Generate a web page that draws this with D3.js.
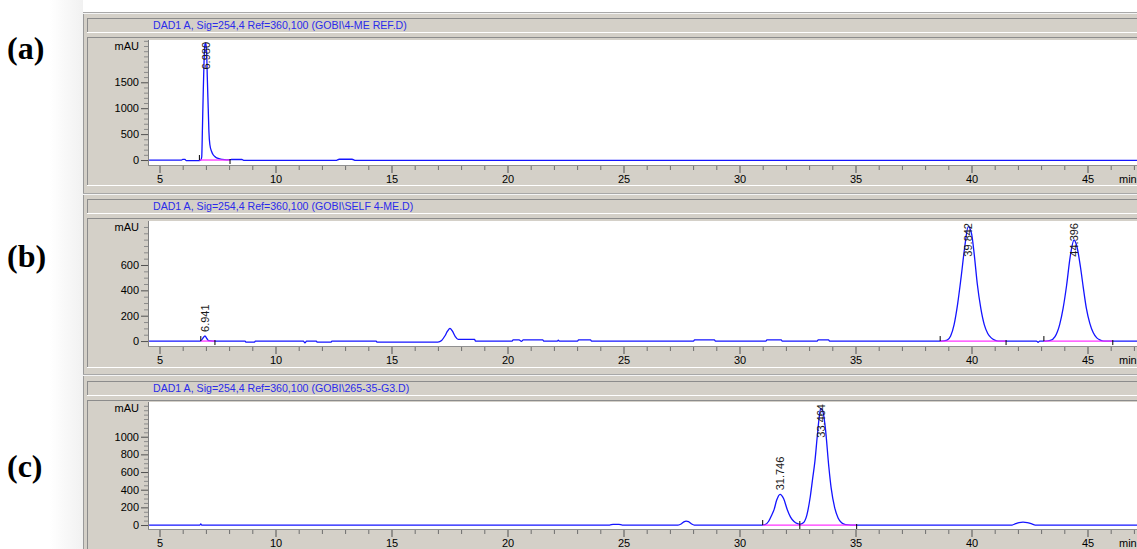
<!DOCTYPE html>
<html><head><meta charset="utf-8">
<script src="https://cdn.jsdelivr.net/npm/d3@7"></script>
<style>body{margin:0;background:#fff;overflow:hidden} svg{display:block}</style>
</head><body><svg id="chart" width="1137" height="549"></svg>
<script>
// ---------------- data ----------------
const panelLabels = ["(a)", "(b)", "(c)"];
const headers = [
  "DAD1 A, Sig=254,4 Ref=360,100 (GOBI\\4-ME REF.D)",
  "DAD1 A, Sig=254,4 Ref=360,100 (GOBI\\SELF 4-ME.D)",
  "DAD1 A, Sig=254,4 Ref=360,100 (GOBI\\265-35-G3.D)"
];
const timeTicks = [5, 10, 15, 20, 25, 30, 35, 40, 45];
const yTicksA = [0, 500, 1000, 1500];
const yTicksB = [0, 200, 400, 600];
const yTicksC = [0, 200, 400, 600, 800, 1000];
const yMinorStepA = 100, yMinorStepB = 50, yMinorStepC = 50;

// chromatogram traces: [time (min), signal (mAU)]
const traceA = [[4.55,0],[5.95,0],[6.0,12],[6.1,12],[6.15,-12],[6.72,-12],[6.78,0],[6.82,60],[6.85,600],[6.88,1200],[6.92,1900],[6.96,2230],[6.99,2260],[7.03,2100],[7.06,1600],[7.1,1000],[7.13,550],[7.17,300],[7.25,160],[7.32,97],[7.42,55],[7.53,30],[7.7,12],[7.9,4],[8.05,6],[8.1,10],[8.55,10],[8.65,-8],[12.6,-8],[12.75,15],[13.3,15],[13.45,-8],[47.2,-8]];
const traceB = [[4.55,0],[6.75,0],[6.8,5],[6.88,25],[6.96,40],[7.04,20],[7.12,3],[7.3,0],[8.69,0],[8.72,-8],[9.1,-8],[9.13,0],[11.2,0],[11.27,-15],[11.34,0],[11.76,0],[11.79,-8],[12.4,-8],[12.43,0],[14.34,0],[14.37,-8],[17.0,-8],[17.16,5],[17.3,40],[17.42,80],[17.52,100],[17.62,80],[17.75,35],[17.87,13],[18.58,13],[18.62,0],[20.2,0],[20.24,10],[20.5,10],[20.6,-3],[20.68,10],[21.52,10],[21.56,0],[22.15,0],[22.19,8],[22.23,0],[23.02,0],[23.06,10],[23.58,10],[23.62,0],[28.02,0],[28.06,10],[28.92,10],[28.96,0],[31.14,0],[31.18,10],[31.8,10],[31.84,0],[33.35,0],[33.39,10],[33.84,10],[33.88,0],[38.7,0],[38.95,8],[39.1,40],[39.25,130],[39.4,290],[39.55,500],[39.7,730],[39.86,902],[40.0,850],[40.12,680],[40.25,450],[40.4,260],[40.55,130],[40.7,60],[40.85,25],[41.0,8],[41.15,0],[42.8,0],[42.87,-10],[42.94,0],[43.2,0],[43.4,5],[43.6,35],[43.8,130],[43.95,260],[44.1,440],[44.25,660],[44.42,797],[44.55,740],[44.7,580],[44.82,420],[44.95,260],[45.1,140],[45.25,65],[45.4,25],[45.55,8],[45.7,0],[47.2,0]];
const traceC = [[4.55,0],[6.74,0],[6.78,12],[6.82,0],[24.4,0],[24.55,8],[24.8,8],[24.95,0],[27.35,0],[27.5,15],[27.6,35],[27.7,45],[27.8,38],[27.92,15],[28.05,0],[31.0,0],[31.1,4],[31.25,40],[31.4,120],[31.49,174],[31.6,280],[31.75,348],[31.9,300],[32.06,174],[32.2,90],[32.35,40],[32.5,15],[32.6,8],[32.75,25],[32.9,110],[33.05,320],[33.15,520],[33.25,720],[33.35,1000],[33.45,1250],[33.5,1320],[33.6,1280],[33.7,1100],[33.85,660],[33.95,420],[34.1,200],[34.25,80],[34.4,25],[34.57,5],[34.8,0],[41.75,0],[41.9,15],[42.05,28],[42.22,32],[42.4,28],[42.6,12],[42.75,0],[47.2,0]];

// peak annotations: apex time, apex height, retention-time label
const peakTimesA = [6.99], peakHeightsA = [2260], peakNamesA = ["6.980"];
const peakTimesB = [6.96, 39.86, 44.42], peakHeightsB = [40, 902, 797], peakNamesB = ["6.941", "39.842", "44.396"];
const peakTimesC = [31.75, 33.5], peakHeightsC = [348, 1320], peakNamesC = ["31.746", "33.464"];

// integration baselines [start, end] and split markers
const integA = [[6.72, 8.04]];
const integB = [[6.78, 7.39], [38.65, 41.49], [43.12, 46.09]];
const integC = [[31.0, 35.05]];
const splitC = [32.6];

// ---------------- layout ----------------
const W = 1137;
const frameLeft = 83, boxLeft = 87, plotLeft = 149, plotRight = 1137;
const layouts = [
  {outerTop: 12, headerTop: 18, boxTop: 37, plotTop: 40, axisY: 165, boxBottom: 185, yMin: -96, yMax: 2316, labelY: 48,
   trace: traceA, yTicks: yTicksA, minor: yMinorStepA, pt: peakTimesA, ph: peakHeightsA, pn: peakNamesA, integ: integA, split: []},
  {outerTop: 193, headerTop: 199, boxTop: 218, plotTop: 221, axisY: 346, boxBottom: 367, yMin: -39, yMax: 947, labelY: 256,
   trace: traceB, yTicks: yTicksB, minor: yMinorStepB, pt: peakTimesB, ph: peakHeightsB, pn: peakNamesB, integ: integB, split: []},
  {outerTop: 374, headerTop: 381, boxTop: 400, plotTop: 402, axisY: 529, boxBottom: 570, yMin: -45, yMax: 1393, labelY: 466,
   trace: traceC, yTicks: yTicksC, minor: yMinorStepC, pt: peakTimesC, ph: peakHeightsC, pn: peakNamesC, integ: integC, split: splitC}
];

const svg = d3.select("#chart");
const gray = "#d4d0c8";
const x = d3.scaleLinear().domain([5, 45]).range([159.5, 159.5 + 40 * 23.2]);

// left margin soft shading and frame background
const grad = svg.append("defs").append("linearGradient").attr("id", "shade").attr("x1", 0).attr("x2", 1);
grad.append("stop").attr("offset", 0).attr("stop-color", "#ffffff");
grad.append("stop").attr("offset", 1).attr("stop-color", "#f1f1f1");
svg.append("rect").attr("x", 50).attr("y", 0).attr("width", frameLeft - 50).attr("height", 549).attr("fill", "url(#shade)");
svg.append("rect").attr("x", frameLeft).attr("y", 12).attr("width", W - frameLeft).attr("height", 549 - 12)
  .attr("fill", gray);
svg.append("line").attr("x1", frameLeft + 0.5).attr("x2", frameLeft + 0.5).attr("y1", 12).attr("y2", 549).attr("stroke", "#9a9a9a");

const defs = svg.append("defs");
const FONT = "Liberation Sans, Arial, sans-serif";

layouts.forEach((L, i) => {
  const g = svg.append("g");
  // outer separator line
  g.append("line").attr("x1", frameLeft).attr("x2", W).attr("y1", L.outerTop + 0.5).attr("y2", L.outerTop + 0.5).attr("stroke", "#a8a8a8");
  g.append("line").attr("x1", frameLeft).attr("x2", W).attr("y1", L.outerTop + 1.5).attr("y2", L.outerTop + 1.5).attr("stroke", "#f4f4f4");
  // header box
  g.append("line").attr("x1", boxLeft).attr("x2", W).attr("y1", L.headerTop + 0.5).attr("y2", L.headerTop + 0.5).attr("stroke", "#8c8c8c");
  g.append("line").attr("x1", boxLeft + 0.5).attr("x2", boxLeft + 0.5).attr("y1", L.headerTop).attr("y2", L.headerTop + 15).attr("stroke", "#8c8c8c");
  g.append("line").attr("x1", boxLeft).attr("x2", W).attr("y1", L.headerTop + 14.5).attr("y2", L.headerTop + 14.5).attr("stroke", "#ffffff");
  g.append("text").attr("x", 153).attr("y", L.headerTop + 11)
    .attr("font-family", FONT).attr("font-size", 10.6).attr("fill", "#2b2bea")
    .text(headers[i]);
  // inner box
  g.append("line").attr("x1", boxLeft).attr("x2", W).attr("y1", L.boxTop + 0.5).attr("y2", L.boxTop + 0.5).attr("stroke", "#8c8c8c");
  g.append("line").attr("x1", boxLeft + 0.5).attr("x2", boxLeft + 0.5).attr("y1", L.boxTop).attr("y2", Math.min(L.boxBottom, 549)).attr("stroke", "#8c8c8c");
  g.append("line").attr("x1", boxLeft).attr("x2", W).attr("y1", L.boxBottom + 0.5).attr("y2", L.boxBottom + 0.5).attr("stroke", "#ffffff");
  // plot area
  g.append("rect").attr("x", plotLeft).attr("y", L.plotTop).attr("width", plotRight - plotLeft).attr("height", L.axisY - L.plotTop).attr("fill", "#fff");

  const y = d3.scaleLinear().domain([L.yMin, L.yMax]).range([L.axisY, L.plotTop]);

  // axes lines
  g.append("line").attr("x1", plotLeft - 0.5).attr("x2", plotLeft - 0.5).attr("y1", L.plotTop).attr("y2", L.axisY + 1).attr("stroke", "#808080");
  g.append("line").attr("x1", plotLeft - 1).attr("x2", W).attr("y1", L.axisY + 0.5).attr("y2", L.axisY + 0.5).attr("stroke", "#909090");

  // x axis
  const xMinor = d3.range(5, 48, 1).filter(v => x(v) < W - 1 && timeTicks.indexOf(v) < 0);
  const gxm = g.append("g").attr("transform", `translate(0,${L.axisY + 1})`)
    .call(d3.axisBottom(x).tickValues(xMinor).tickSize(4).tickFormat(""));
  gxm.select(".domain").remove();
  gxm.selectAll("line").attr("stroke", "#6e6e6e");
  const gx = g.append("g").attr("transform", `translate(0,${L.axisY + 1})`)
    .call(d3.axisBottom(x).tickValues(timeTicks).tickSize(7).tickPadding(2).tickFormat(d3.format("d")));
  gx.select(".domain").remove();
  gx.selectAll("line").attr("stroke", "#505050");
  gx.selectAll("text").attr("font-family", FONT).attr("font-size", 11).attr("fill", "#000");
  g.append("text").attr("x", 1119).attr("y", L.axisY + 18).attr("font-family", FONT)
    .attr("font-size", 11).attr("fill", "#000").text("min");

  // y axis
  const yMinorVals = d3.range(Math.ceil(L.yMin / L.minor) * L.minor, L.yMax, L.minor).filter(v => L.yTicks.indexOf(v) < 0);
  const gym = g.append("g").attr("transform", `translate(${plotLeft - 1},0)`)
    .call(d3.axisLeft(y).tickValues(yMinorVals).tickSize(4).tickFormat(""));
  gym.select(".domain").remove();
  gym.selectAll("line").attr("stroke", "#8a8a8a");
  const gy = g.append("g").attr("transform", `translate(${plotLeft - 1},0)`)
    .call(d3.axisLeft(y).tickValues(L.yTicks).tickSize(7).tickPadding(2).tickFormat(d3.format("d")));
  gy.select(".domain").remove();
  gy.selectAll("line").attr("stroke", "#505050");
  gy.selectAll("text").attr("font-family", FONT).attr("font-size", 11).attr("fill", "#000");
  g.append("text").attr("x", plotLeft - 10).attr("y", L.plotTop + 10).attr("text-anchor", "end")
    .attr("font-family", FONT).attr("font-size", 11).attr("fill", "#000").text("mAU");

  // clip
  const cid = "clip" + i;
  defs.append("clipPath").attr("id", cid).append("rect")
    .attr("x", plotLeft).attr("y", L.plotTop).attr("width", plotRight - plotLeft).attr("height", L.axisY - L.plotTop);
  const pg = g.append("g").attr("clip-path", `url(#${cid})`);

  const line = d3.line().x(d => x(d[0])).y(d => y(d[1])).curve(d3.curveMonotoneX);
  pg.append("path").datum(L.trace).attr("d", line).attr("fill", "none").attr("stroke", "#1414ff").attr("stroke-width", 1.3);

  // integration baselines
  L.integ.forEach(s => {
    pg.append("line").attr("x1", x(s[0])).attr("x2", x(s[1])).attr("y1", y(0)).attr("y2", y(0))
      .attr("stroke", "#ff33ff").attr("stroke-width", 1.3);
    pg.append("line").attr("x1", x(s[0])).attr("x2", x(s[0])).attr("y1", y(0) - 5).attr("y2", y(0))
      .attr("stroke", "#000").attr("stroke-width", 1);
    pg.append("line").attr("x1", x(s[1])).attr("x2", x(s[1])).attr("y1", y(0) - 1).attr("y2", y(0) + 4)
      .attr("stroke", "#000").attr("stroke-width", 1);
  });
  L.split.forEach(t => {
    pg.append("line").attr("x1", x(t)).attr("x2", x(t)).attr("y1", y(0) - 4).attr("y2", y(0) + 4)
      .attr("stroke", "#000").attr("stroke-width", 1);
  });

  // peak labels
  L.pt.forEach((t, k) => {
    const px = x(t), py = y(L.ph[k]);
    const txt = pg.append("text").attr("font-family", FONT).attr("font-size", 11)
      .attr("fill", "#1a1a1a").attr("dy", "0.35em").text(L.pn[k]);
    const len = txt.node().getComputedTextLength();
    let start = py - 4;
    if (start - len < L.plotTop + 2) start = L.plotTop + 2 + len;
    txt.attr("transform", `translate(${px},${start}) rotate(-90)`);
  });

  // panel label
  svg.append("text").attr("x", 7).attr("y", L.labelY).attr("dy", "0.35em")
    .attr("font-family", "Liberation Serif, Times New Roman, serif").attr("font-weight", "bold").attr("font-size", 32)
    .attr("fill", "#000").text(panelLabels[i]);
});
</script></body></html>
